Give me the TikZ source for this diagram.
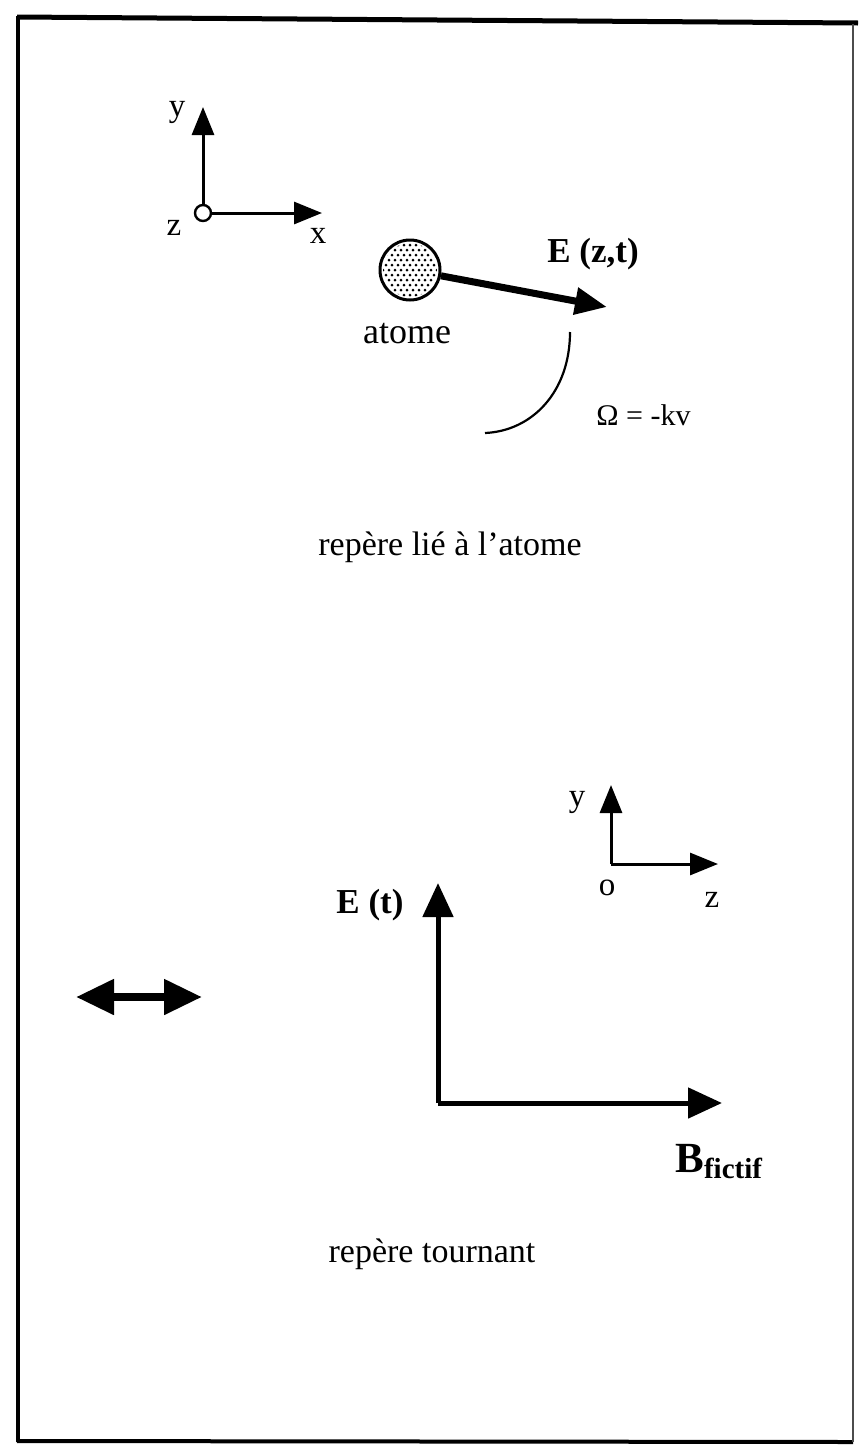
\documentclass[tikz,border=0pt]{standalone}
\usepackage{fontspec}
\setmainfont{Liberation Serif}
\usetikzlibrary{arrows.meta}

\begin{document}
\begin{tikzpicture}[x=0.5pt,y=-0.5pt,
    axe/.style={line width=1.5pt,-{Triangle[length=14pt,width=11pt]}},
    grandaxe/.style={line width=2.5pt,-{Triangle[length=17pt,width=15pt]}},
    champ/.style={line width=3.5pt,-{Triangle[length=16pt,width=13pt]}},
    lettre/.style={inner sep=0pt,anchor=base,font=\fontsize{16.5}{19}\selectfont},
    texte/.style={inner sep=0pt,anchor=base,font=\fontsize{17}{20}\selectfont},
    gras/.style={inner sep=0pt,anchor=base,font=\fontsize{17.5}{20}\selectfont\bfseries},
    atomstyle/.style={circle,draw,line width=1.5pt,minimum size=30pt,inner sep=0pt}]
  \useasboundingbox (0,0) rectangle (858,1446);
  % Frame
  \draw[line width=2.5pt] (17,17) -- (858,23);
  \draw[line width=2pt] (18,16) -- (18,1442);
  \draw[line width=2pt] (17,1441) -- (853,1442);
  \draw[line width=0.8pt,black!70] (853,24) -- (853,1442);
  % Top frame (x,y,z)
  \coordinate (O1) at (203,213);
  \coordinate (y1) at (203,107);
  \coordinate (x1) at (322,213);
  \draw[axe] (O1) -- (y1);
  \draw[axe] (O1) -- (x1);
  \draw[line width=1.2pt,fill=white] (O1) circle[radius=8];
  \node[lettre] (ylab1) at (177,116) {y};
  \node[lettre] (zlab1) at (174,235) {z};
  \node[lettre] (xlab1) at (318,243) {x};
  % Atom with dotted filling
  \node[atomstyle] (atom) at (410,270) {};
  \begin{scope}
    \clip (atom.center) circle[radius=13.5pt];
    \foreach \j in {0,...,12}{
      \foreach \i in {0,...,11}{
        \fill[shift={(atom.center)}] ({-33+\i*6+3*mod(\j,2)},{-30+\j*5}) circle[radius=0.75pt];
      }
    }
  \end{scope}
  \node[texte,font=\fontsize{18}{20}\selectfont] (atomlab) at (407,343) {atome};
  % Field E(z,t)
  \coordinate (Etip) at (607,307);
  \draw[champ] (atom) -- (Etip);
  \node[gras] (Elab) at (593,262) {E (z,t)};
  % Rotation
  \coordinate (arcA) at (570,332);
  \coordinate (arcB) at (485,433);
  \draw[line width=1.1pt] (arcA) .. controls (570,392) and (532,431) .. (arcB);
  \node[inner sep=0pt,anchor=base west,font=\fontsize{15}{18}\selectfont] (omega) at (596,425) {Ω = -kv};
  \node[texte] (titre1) at (450,555) {repère lié à l'atome};
  % Bottom frame (o,y,z)
  \coordinate (O2) at (611,864);
  \coordinate (y2) at (611,785);
  \coordinate (z2) at (718,864);
  \draw[axe] (O2) -- (y2);
  \draw[axe] (O2) -- (z2);
  \node[lettre] (ylab2) at (577,806) {y};
  \node[lettre] (olab2) at (607,895) {o};
  \node[lettre] (zlab2) at (712,907) {z};
  % Double arrow
  \coordinate (dg) at (76,997);
  \coordinate (dd) at (202,997);
  \draw[line width=4pt,{Triangle[length=19pt,width=17pt]}-{Triangle[length=19pt,width=17pt]}] (dg) -- (dd);
  % Rotating frame: E(t) and B fictif
  \coordinate (O3) at (438,1103);
  \coordinate (Et) at (438,883);
  \coordinate (Bf) at (722,1103);
  \draw[grandaxe] (O3) -- (Et);
  \draw[grandaxe] (O3) -- (Bf);
  \node[gras] (Etlab) at (370,913) {E (t)};
  \node[inner sep=0pt,anchor=base west,font=\bfseries] (Blab) at (675,1172)
    {\fontsize{21.5}{24}\selectfont B\raisebox{-3pt}{\fontsize{14.5}{17}\selectfont fictif}};
  \node[texte] (titre2) at (432,1262) {repère tournant};
\end{tikzpicture}
\end{document}
